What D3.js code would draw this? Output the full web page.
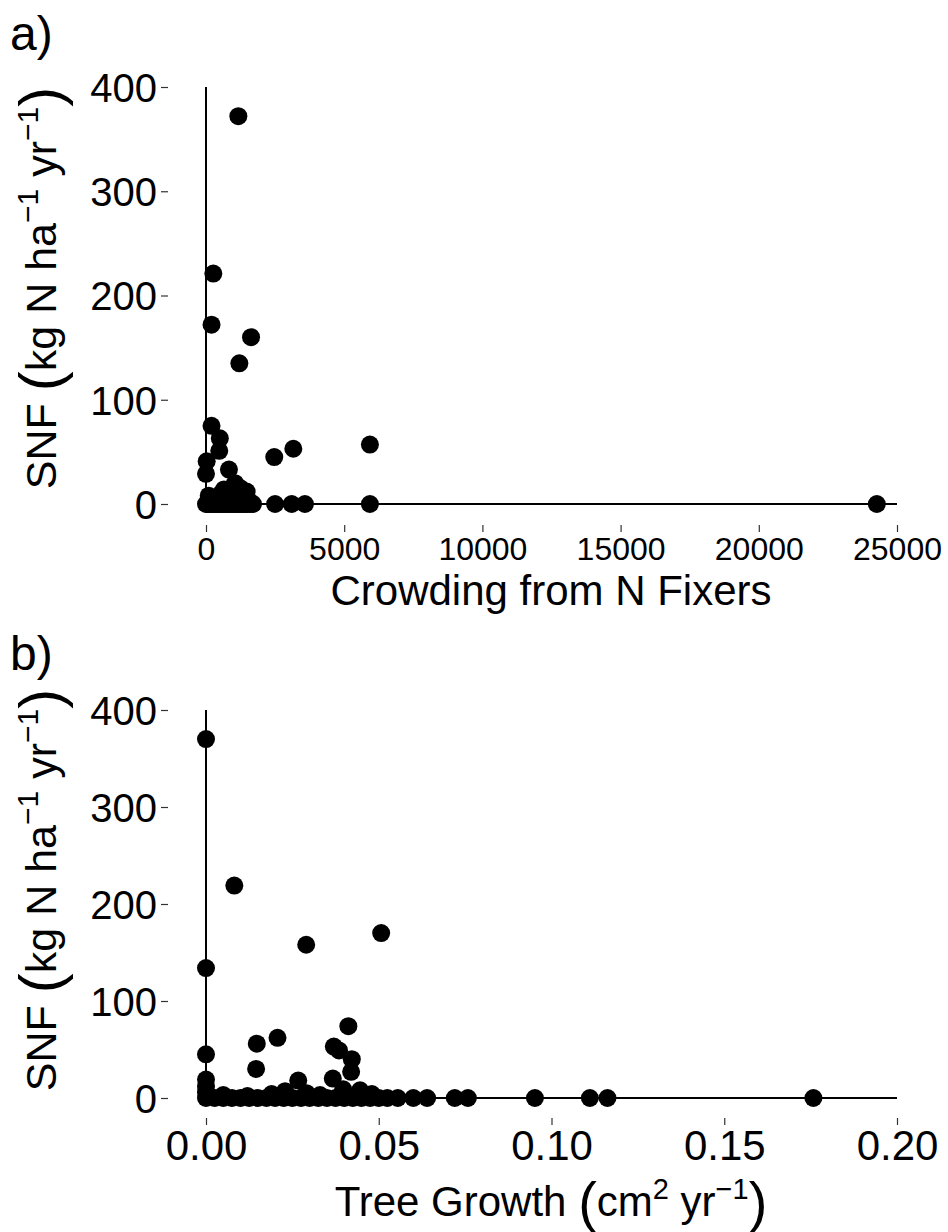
<!DOCTYPE html>
<html><head><meta charset="utf-8">
<script src="https://cdn.jsdelivr.net/npm/d3@7"></script>
<style>body{margin:0;background:#fff}svg{display:block}</style>
</head><body>
<svg id="c" width="948" height="1232"></svg>
<script>
// ---- data ----
const yTicks = [0, 100, 200, 300, 400];
const crowdTicks = [0, 5000, 10000, 15000, 20000, 25000];
const growthTicks = [0, 0.05, 0.10, 0.15, 0.20];

// panel a: crowding from N fixers vs SNF
const crowdX = [1170,265,200,1630,1206,200,500,480,25,0,830,1050,1470,2470,3160,5930,
  100,300,550,650,900,1150,1350,1550,750,420,1000,1250,
  0,60,140,220,300,380,460,540,620,700,780,860,940,1020,1100,1180,1260,1340,1420,1500,1600,1700,2500,3100,3580,5930,24270];
const crowdSNF = [372,221,172,160,135,75,63,51,41,29,33,20,12,45,53,57,
  8,4,10,14,6,5,8,3,3,6,11,15,
  0,0,0,0,0,0,0,0,0,0,0,0,0,0,0,0,0,0,0,0,0,0,0,0,0,0,0];

// panel b: tree growth vs SNF
const growthX = [0,0.0082,0.029,0.0507,0,0,0.0412,0.0207,0.0147,0.037,0.0385,0.0422,0.0145,0.042,0.0267,0.0367,0,0,0,
  0.0229,0.0291,0.0397,0.0446,0.019,0.033,0.012,0.005,0.048,
  0,0.0025,0.005,0.0075,0.01,0.0125,0.015,0.0175,0.02,0.0225,0.025,0.0275,0.03,0.0325,0.035,0.0375,0.04,0.0425,0.045,0.0475,0.05,0.0525,
  0.0555,0.06,0.064,0.072,0.0758,0.0952,0.1111,0.1162,0.1758];
const growthSNF = [370,219,158,170,134,45,74,62,56,53,49,40,30,27,18,20,19,12,6,
  7,5,9,8,4,3,2,3,4,
  0,0,0,0,0,0,0,0,0,0,0,0,0,0,0,0,0,0,0,0,0,0,
  0,0,0,0,0,0,0,0,0];

// ---- drawing ----
const svg = d3.select('#c');
const FONT = "'Liberation Sans', Arial, sans-serif";
const tickCol = '#333';

function panel(o) {
  const x = d3.scaleLinear().domain(o.xDomain).range([206, 897]);
  const y = d3.scaleLinear().domain([0, 400]).range([o.y0, o.y400]);
  const g = svg.append('g');

  // y axis (ticks at panel edge)
  const ya = g.append('g').attr('transform', `translate(168,0)`)
    .call(d3.axisLeft(y).tickValues(yTicks).tickSize(7).tickPadding(4));
  ya.select('.domain').remove();
  ya.selectAll('line').attr('stroke', tickCol).attr('stroke-width', 1.2);
  ya.selectAll('text').attr('font-family', FONT).attr('font-size', o.yTickFs).attr('fill', '#000')
    .attr('dy', '0.36em');

  // x axis
  const xa = g.append('g').attr('transform', `translate(0,${o.xAxisY})`)
    .call(d3.axisBottom(x).tickValues(o.xTicks).tickSize(7).tickPadding(5).tickFormat(o.fmt));
  xa.select('.domain').remove();
  xa.selectAll('line').attr('stroke', tickCol).attr('stroke-width', 1.2);
  xa.selectAll('text').attr('font-family', FONT).attr('font-size', o.xTickFs).attr('fill', '#000')
    .attr('dy', '0.72em');

  // reference segments at x=0, y=0
  g.append('line').attr('x1', x(0)).attr('x2', x(o.xDomain[1])).attr('y1', y(0)).attr('y2', y(0))
    .attr('stroke', '#000').attr('stroke-width', 2);
  g.append('line').attr('x1', x(0)).attr('x2', x(0)).attr('y1', y(0)).attr('y2', y(400))
    .attr('stroke', '#000').attr('stroke-width', 2);

  // points
  g.append('g').selectAll('circle').data(o.xs.map((v, i) => [v, o.ys[i]])).join('circle')
    .attr('cx', d => x(d[0])).attr('cy', d => y(d[1])).attr('r', 9).attr('fill', '#000');

  // y title
  const yt = g.append('text').attr('font-family', FONT).attr('font-size', 43).attr('fill', '#000')
    .attr('text-anchor', 'middle')
    .attr('transform', `translate(56,${o.yTitleY}) rotate(-90)`);
  yt.append('tspan').text('SNF ');
  yt.append('tspan').attr('font-size', 60).attr('dy', 5).text('(');
  yt.append('tspan').attr('dy', -5).text('kg N ha');
  yt.append('tspan').attr('font-size', 30).attr('dy', -18).text('\u22121');
  yt.append('tspan').attr('dy', 18).text(' yr');
  yt.append('tspan').attr('font-size', 30).attr('dy', -18).text('\u22121');
  yt.append('tspan').attr('font-size', 60).attr('dy', 23).text(')');

  // panel label
  g.append('text').attr('x', 10).attr('y', o.labY).attr('font-family', FONT).attr('font-size', 48)
    .attr('fill', '#000').text(o.lab);
  return { x, y, g };
}

const a = panel({ xDomain: [0, 25000], y0: 504, y400: 87, xAxisY: 525, xTicks: crowdTicks,
  fmt: d3.format('d'), xTickFs: 32, yTickFs: 40, xs: crowdX, ys: crowdSNF,
  yTitleY: 288, labY: 50, lab: 'a)' });
a.g.append('text').attr('x', 551).attr('y', 605).attr('text-anchor', 'middle')
  .attr('font-family', FONT).attr('font-size', 42).attr('fill', '#000').text('Crowding from N Fixers');

const b = panel({ xDomain: [0, 0.2], y0: 1098, y400: 710, xAxisY: 1118, xTicks: growthTicks,
  fmt: d3.format('.2f'), xTickFs: 42, yTickFs: 40, xs: growthX, ys: growthSNF,
  yTitleY: 890, labY: 670, lab: 'b)' });
const bt = b.g.append('text').attr('x', 551).attr('y', 1216).attr('text-anchor', 'middle')
  .attr('font-family', FONT).attr('font-size', 42).attr('fill', '#000');
bt.append('tspan').text('Tree Growth ');
bt.append('tspan').attr('font-size', 56).attr('dy', 5).text('(');
bt.append('tspan').attr('dy', -5).text('cm');
bt.append('tspan').attr('font-size', 29).attr('dy', -17).text('2');
bt.append('tspan').attr('dy', 17).text(' yr');
bt.append('tspan').attr('font-size', 29).attr('dy', -17).text('\u22121');
bt.append('tspan').attr('font-size', 56).attr('dy', 22).text(')');
</script>
</body></html>
